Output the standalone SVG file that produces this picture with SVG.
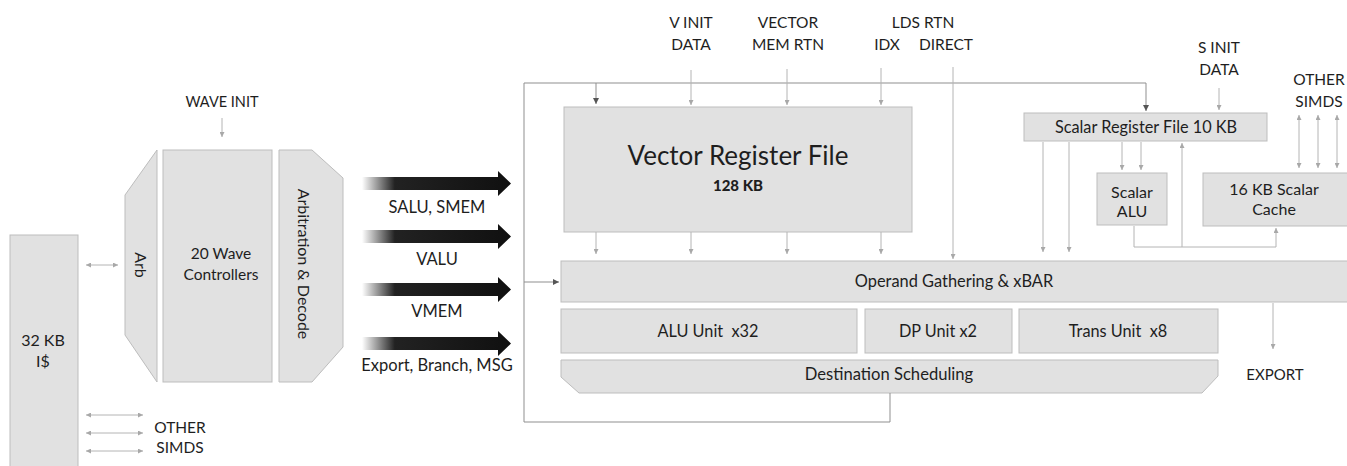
<svg xmlns="http://www.w3.org/2000/svg" width="1347" height="466" viewBox="0 0 1347 466">
  <style>
    .box { fill: #e1e1e1; stroke: #bdbdbd; stroke-width: 1; }
    .t { font-family: Lato, "Open Sans", "Liberation Sans", sans-serif; font-size: 15.5px; fill: #1e1e1e; text-anchor: middle; white-space: pre; }
    .tb { font-size: 16px; }
    .ln { fill: none; stroke: #b4b4b4; stroke-width: 1; }
    .loop { fill: none; stroke: #8f8f8f; stroke-width: 1; }
    .fat { fill: url(#fatGrad); }
  </style>
  <defs>
    <marker id="ah" viewBox="0 0 6 6" refX="6" refY="3" markerWidth="5" markerHeight="5" markerUnits="userSpaceOnUse" orient="auto-start-reverse">
      <path d="M0,0 L6,3 L0,6 z" fill="#a8a8a8"/>
    </marker>
    <marker id="ahDark" viewBox="0 0 6 6" refX="6" refY="3" markerWidth="6" markerHeight="6" markerUnits="userSpaceOnUse" orient="auto">
      <path d="M0,0 L6,3 L0,6 z" fill="#555"/>
    </marker>
    <linearGradient id="fatGrad" x1="0" y1="0" x2="1" y2="0">
      <stop offset="0" stop-color="#ffffff"/>
      <stop offset="0.22" stop-color="#222"/>
      <stop offset="1" stop-color="#101010"/>
    </linearGradient>
  </defs>

  <!-- instruction cache -->
  <g id="icache">
    <rect class="box" x="10" y="235" width="68" height="240"/>
    <text class="t tb" x="43" y="346">32 KB</text>
    <text class="t tb" x="43" y="367">I$</text>
  </g>

  <!-- wave front-end -->
  <g id="arb">
    <polygon class="box" points="125,195 157,150 157,382 125,335"/>
    <text class="t tb" transform="translate(141,265) rotate(90)" dominant-baseline="central">Arb</text>
  </g>
  <g id="wave-controllers">
    <rect class="box" x="163" y="150" width="109" height="232"/>
    <text class="t" x="221" y="259">20 Wave</text>
    <text class="t" x="221" y="280">Controllers</text>
  </g>
  <g id="arb-decode">
    <polygon class="box" points="279,150 312,150 343,178 343,347 312,382 279,382"/>
    <text class="t tb" transform="translate(304,264) rotate(90)" dominant-baseline="central">Arbitration &amp; Decode</text>
  </g>

  <!-- issue paths -->
  <g id="issue" style="font-size:16.5px">
    <path class="fat" d="M362,177 H498 V171 L511,183.5 L498,196 V190 H362 z"/>
    <path class="fat" d="M362,230 H498 V224 L511,236.5 L498,249 V243 H362 z"/>
    <path class="fat" d="M362,283 H498 V277 L511,289.5 L498,302 V296 H362 z"/>
    <path class="fat" d="M362,337 H498 V331 L511,343.5 L498,356 V350 H362 z"/>
    <text class="t" x="437" y="213" style="font-size:16.5px">SALU, SMEM</text>
    <text class="t" x="437" y="265" style="font-size:16.5px">VALU</text>
    <text class="t" x="437" y="317" style="font-size:16.5px">VMEM</text>
    <text class="t" x="437" y="371" style="font-size:16.5px">Export, Branch, MSG</text>
  </g>

  <!-- vector register file -->
  <g id="vrf">
    <rect class="box" x="564" y="107" width="348" height="125"/>
    <text class="t" x="738" y="165" style="font-size:26px">Vector Register File</text>
    <text class="t" x="738" y="191" style="font-weight:900;font-size:15px">128 KB</text>
  </g>

  <!-- scalar side -->
  <g id="srf">
    <rect class="box" x="1024" y="113" width="243" height="28"/>
    <text class="t" x="1146" y="133" style="font-size:16.3px">Scalar Register File 10 KB</text>
  </g>
  <g id="salu">
    <rect class="box" x="1097" y="173" width="70" height="52"/>
    <text class="t tb" x="1132" y="198">Scalar</text>
    <text class="t tb" x="1132" y="217">ALU</text>
  </g>
  <g id="scache">
    <rect class="box" x="1203" y="173" width="150" height="53"/>
    <text class="t tb" x="1274" y="195">16 KB Scalar</text>
    <text class="t tb" x="1274" y="215">Cache</text>
  </g>

  <!-- datapath -->
  <g id="operand">
    <rect class="box" x="561" y="261" width="792" height="41"/>
    <text class="t" x="954" y="287" style="font-size:16.4px">Operand Gathering &amp; xBAR</text>
  </g>
  <g id="alu">
    <rect class="box" x="561" y="309" width="296" height="44"/>
    <text class="t" x="708" y="337" style="font-size:16.3px">ALU Unit  x32</text>
  </g>
  <g id="dp">
    <rect class="box" x="865" y="309" width="147" height="44"/>
    <text class="t" x="938" y="337" style="font-size:16.3px">DP Unit x2</text>
  </g>
  <g id="trans">
    <rect class="box" x="1019" y="309" width="199" height="44"/>
    <text class="t" x="1118" y="337" style="font-size:16.3px">Trans Unit  x8</text>
  </g>
  <g id="dest">
    <polygon class="box" points="561,360 1218,360 1218,376 1202,393 579,393 561,377"/>
    <text class="t" x="889" y="380" style="font-size:16.6px">Destination Scheduling</text>
  </g>

  <!-- external labels -->
  <g id="labels">
    <text class="t" x="222" y="107" style="font-size:14.5px">WAVE INIT</text>
    <text class="t" x="180" y="433">OTHER</text>
    <text class="t" x="180" y="453">SIMDS</text>
    <text class="t" x="691" y="28">V INIT</text>
    <text class="t" x="691" y="50">DATA</text>
    <text class="t" x="788" y="28">VECTOR</text>
    <text class="t" x="788" y="50">MEM RTN</text>
    <text class="t" x="923" y="28">LDS RTN</text>
    <text class="t" x="887" y="50">IDX</text>
    <text class="t" x="946" y="50">DIRECT</text>
    <text class="t" x="1219" y="53">S INIT</text>
    <text class="t" x="1219" y="75">DATA</text>
    <text class="t" x="1319" y="85">OTHER</text>
    <text class="t" x="1319" y="107">SIMDS</text>
    <text class="t" x="1275" y="380" style="font-size:15px">EXPORT</text>
  </g>

  <!-- connectors -->
  <g id="connectors">
    <!-- writeback loop -->
    <path class="loop" d="M890,393 V422 H524 V83 H1146 V111" marker-end="url(#ahDark)"/>
    <path class="loop" d="M596,83 V104" marker-end="url(#ahDark)"/>
    <path class="loop" d="M524,282 H559" marker-end="url(#ahDark)"/>

    <!-- front-end -->
    <path class="ln" d="M222,118 V137" marker-end="url(#ah)"/>
    <path class="ln" d="M86,265 H118" marker-start="url(#ah)" marker-end="url(#ah)"/>
    <path class="ln" d="M86,415 H143" marker-start="url(#ah)" marker-end="url(#ah)"/>
    <path class="ln" d="M86,433 H143" marker-start="url(#ah)" marker-end="url(#ah)"/>
    <path class="ln" d="M86,451 H143" marker-start="url(#ah)" marker-end="url(#ah)"/>

    <!-- vector register file inputs -->
    <path class="ln" d="M691,70 V105" marker-end="url(#ah)"/>
    <path class="ln" d="M787,69 V105" marker-end="url(#ah)"/>
    <path class="ln" d="M881,68 V105" marker-end="url(#ah)"/>
    <path class="ln" d="M953,67 V259" marker-end="url(#ah)"/>

    <!-- vector register file outputs -->
    <path class="ln" d="M596,232 V254" marker-end="url(#ah)"/>
    <path class="ln" d="M691,232 V254" marker-end="url(#ah)"/>
    <path class="ln" d="M787,232 V254" marker-end="url(#ah)"/>
    <path class="ln" d="M881,232 V254" marker-end="url(#ah)"/>

    <!-- scalar side -->
    <path class="ln" d="M1219,88 V110" marker-end="url(#ah)"/>
    <path class="ln" d="M1299,115 V168" marker-start="url(#ah)" marker-end="url(#ah)"/>
    <path class="ln" d="M1318,115 V168" marker-start="url(#ah)" marker-end="url(#ah)"/>
    <path class="ln" d="M1337,115 V168" marker-start="url(#ah)" marker-end="url(#ah)"/>
    <path class="ln" d="M1122,142 V170" marker-end="url(#ah)"/>
    <path class="ln" d="M1141,142 V170" marker-end="url(#ah)"/>
    <path class="ln" d="M1043,142 V252" marker-end="url(#ah)"/>
    <path class="ln" d="M1069,142 V252" marker-end="url(#ah)"/>
    <path class="ln" d="M1134,226 V247 H1276 V228" marker-end="url(#ah)"/>
    <path class="ln" d="M1182,247 V143" marker-end="url(#ah)"/>

    <!-- export -->
    <path class="ln" d="M1273,303 V349" marker-end="url(#ah)"/>
  </g>
</svg>
